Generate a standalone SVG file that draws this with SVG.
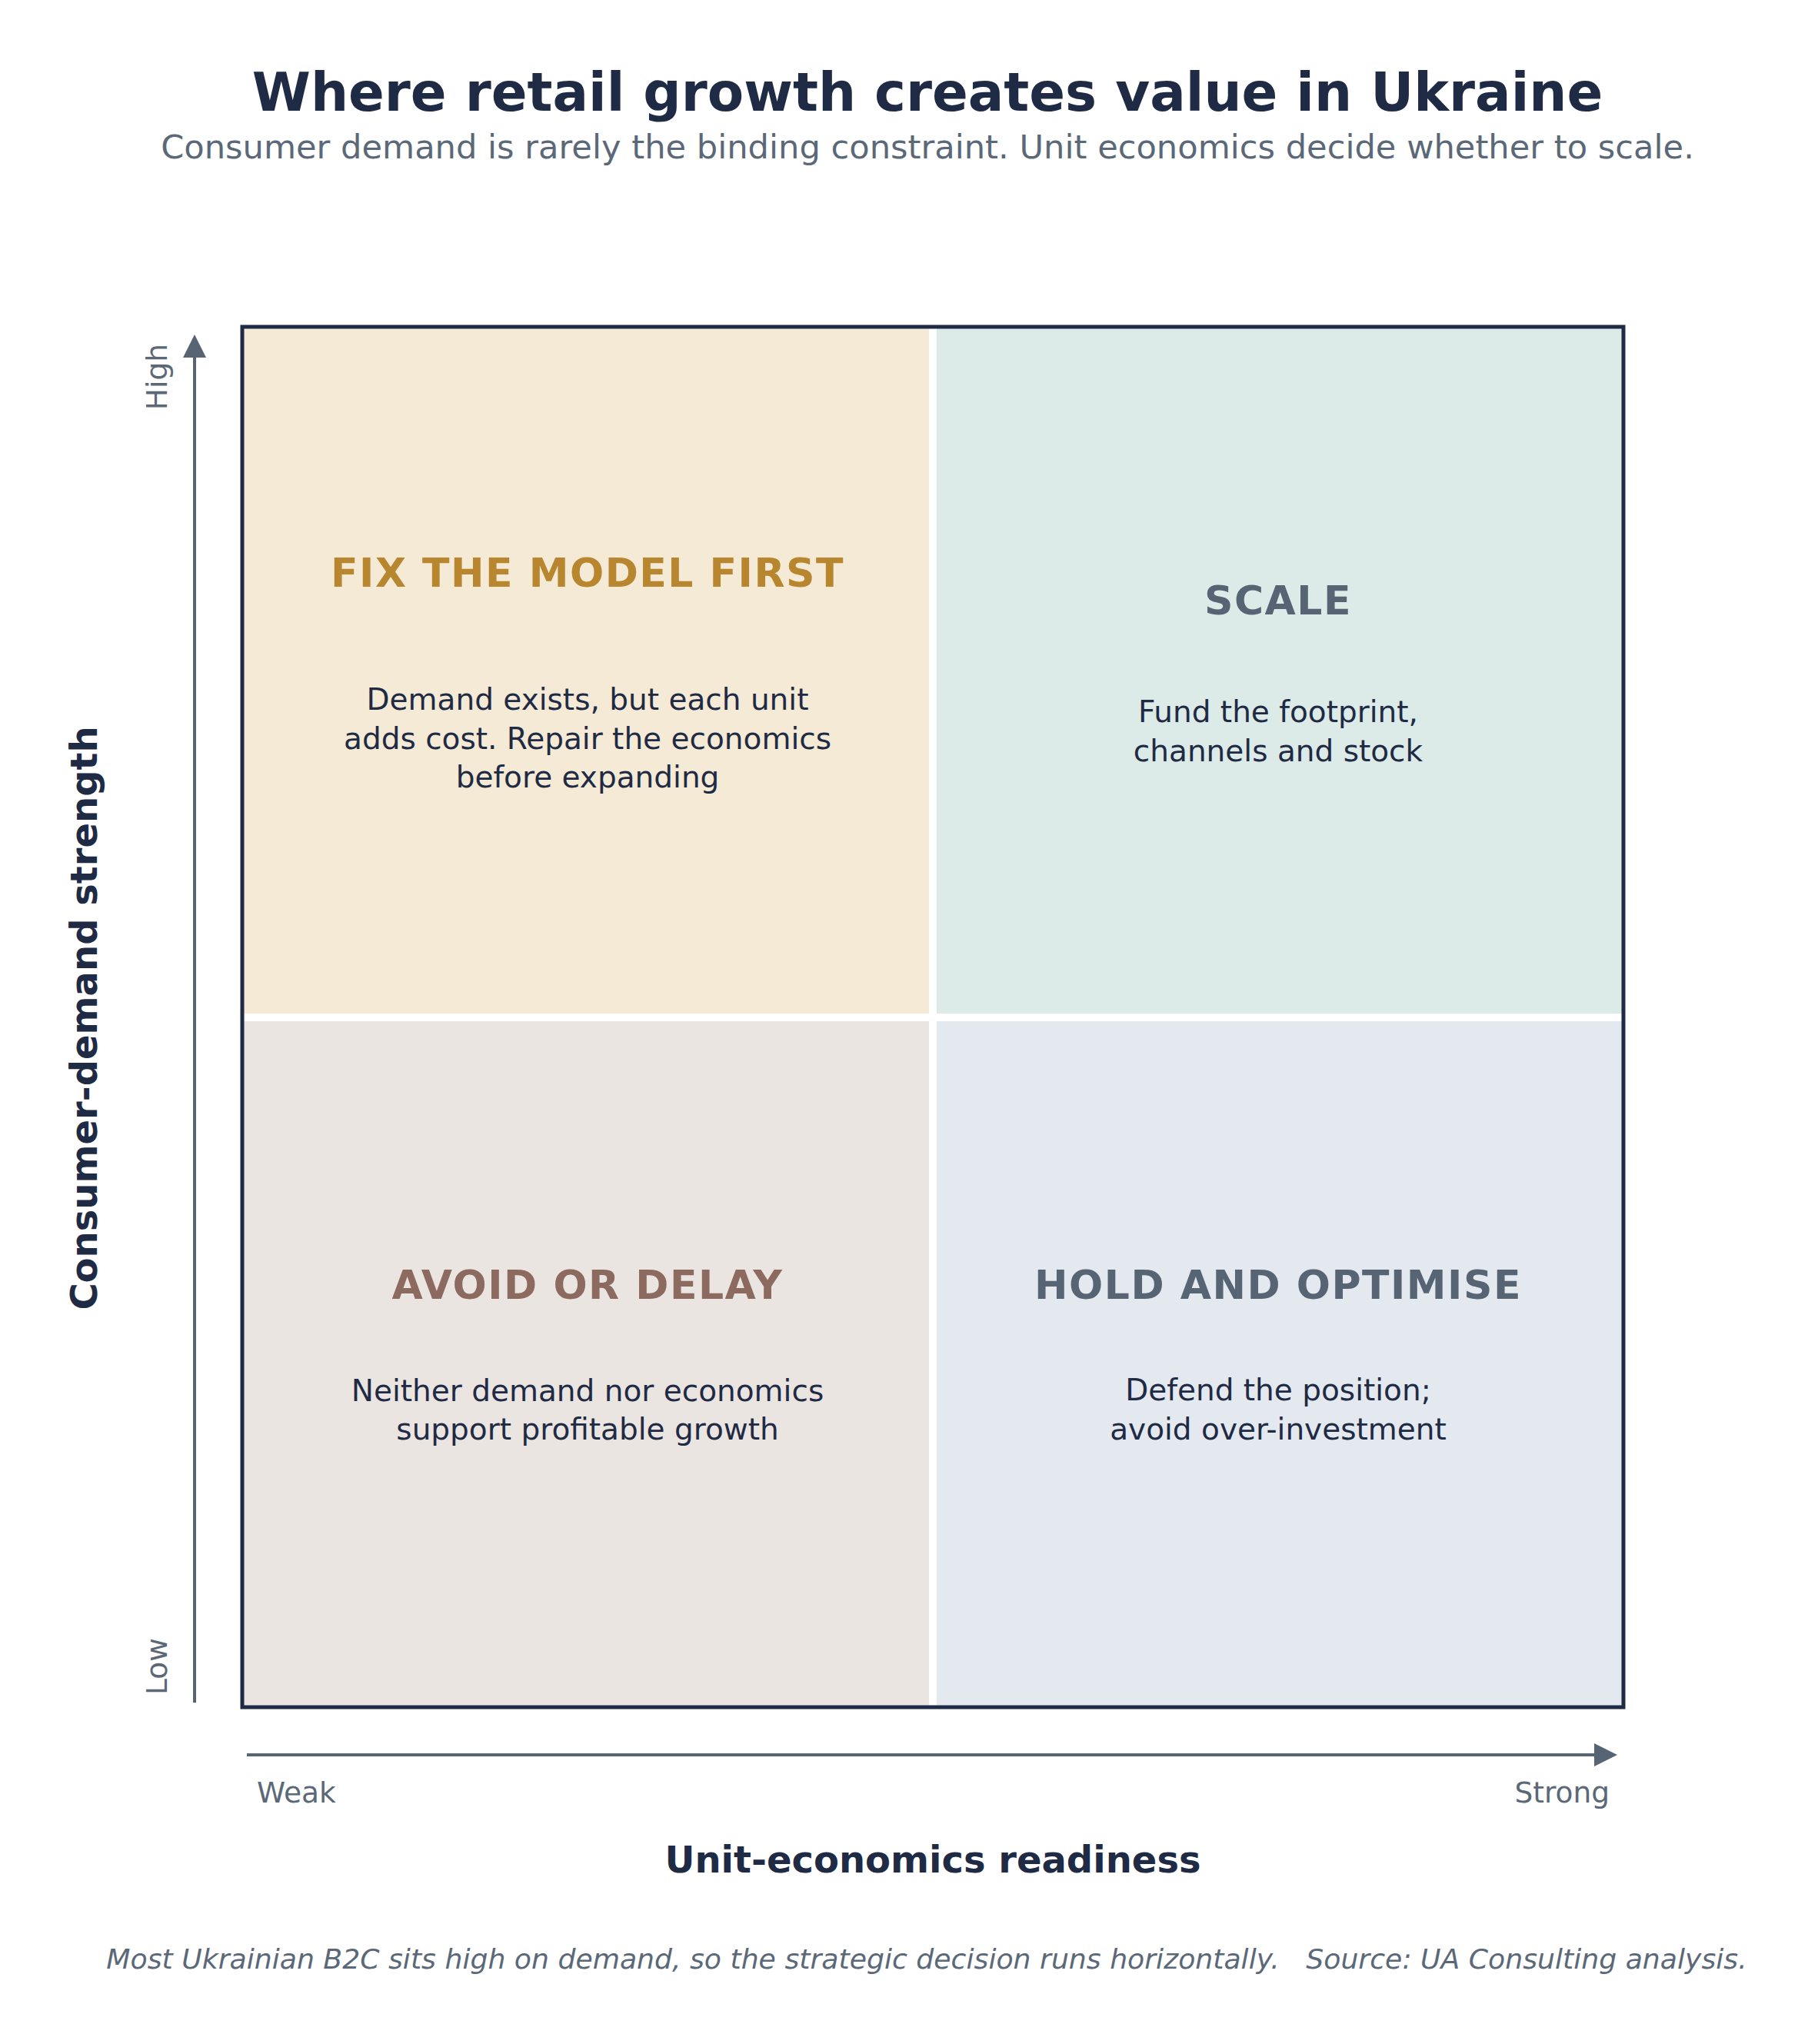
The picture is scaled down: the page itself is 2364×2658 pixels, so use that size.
<svg xmlns="http://www.w3.org/2000/svg" width="2364" height="2658" viewBox="0 0 2364 2658">
<style>
text { font-family: "DejaVu Sans", "Noto Sans", sans-serif; }
.title { font-size: 69px; font-weight: bold; fill: #1f2a44; text-anchor: middle; }
.subtitle { font-size: 43.2px; fill: #5b6878; text-anchor: middle; }
.qtitle { font-size: 52px; font-weight: bold; letter-spacing: 1.5px; text-anchor: middle; }
.qbody { font-size: 39px; fill: #1f2a44; text-anchor: middle; }
.axislabel { font-size: 48px; font-weight: bold; fill: #1f2a44; text-anchor: middle; }
.tick { font-size: 37.5px; fill: #5b6878; }
.footer { font-size: 36.2px; font-style: italic; fill: #5b6878; text-anchor: middle; }
.axis { stroke: #566474; stroke-width: 4; fill: none; }
</style>
<defs>
<marker id="arrow" markerUnits="userSpaceOnUse" markerWidth="30" markerHeight="30" refX="0" refY="15" orient="auto">
<path d="M0,0 L30,15 L0,30 Z" fill="#566474"/>
</marker>
</defs>
<rect x="0" y="0" width="2364" height="2658" fill="#ffffff"/>
<text class="title" x="1206" y="144">Where retail growth creates value in Ukraine</text>
<text class="subtitle" x="1206" y="206">Consumer demand is rarely the binding constraint. Unit economics decide whether to scale.</text>

<g id="quadrant-fix">
<rect x="315" y="425" width="898" height="898" fill="#f5ead5"/>
<text class="qtitle" x="764" y="763" fill="#b8862f">FIX THE MODEL FIRST</text>
<text class="qbody" x="764" y="923">Demand exists, but each unit</text>
<text class="qbody" x="764" y="974">adds cost. Repair the economics</text>
<text class="qbody" x="764" y="1024">before expanding</text>
</g>
<g id="quadrant-scale">
<rect x="1213" y="425" width="898" height="898" fill="#dcebe7"/>
<text class="qtitle" x="1662" y="799" fill="#566474">SCALE</text>
<text class="qbody" x="1662" y="939">Fund the footprint,</text>
<text class="qbody" x="1662" y="990">channels and stock</text>
</g>
<g id="quadrant-avoid">
<rect x="315" y="1323" width="898" height="897" fill="#ebe5e2"/>
<text class="qtitle" x="764" y="1689" fill="#8c6a60">AVOID OR DELAY</text>
<text class="qbody" x="764" y="1822">Neither demand nor economics</text>
<text class="qbody" x="764" y="1872">support profitable growth</text>
</g>
<g id="quadrant-hold">
<rect x="1213" y="1323" width="898" height="897" fill="#e4e9f0"/>
<text class="qtitle" x="1662" y="1689" fill="#566474">HOLD AND OPTIMISE</text>
<text class="qbody" x="1662" y="1821">Defend the position;</text>
<text class="qbody" x="1662" y="1872">avoid over-investment</text>
</g>
<g id="dividers">
<line x1="1213" y1="425" x2="1213" y2="2220" stroke="#ffffff" stroke-width="10"/>
<line x1="315" y1="1323" x2="2111" y2="1323" stroke="#ffffff" stroke-width="10"/>
</g>
<rect id="frame" x="315" y="425" width="1796" height="1795" fill="none" stroke="#1f2a44" stroke-width="5"/>

<g id="connectors">
<line class="axis" x1="253" y1="2214" x2="253" y2="465" marker-end="url(#arrow)"/>
<line class="axis" x1="321" y1="2282" x2="2073" y2="2282" marker-end="url(#arrow)"/>
</g>

<text class="tick" transform="translate(217,447) rotate(-90)" text-anchor="end">High</text>
<text class="tick" transform="translate(217,2204) rotate(-90)" text-anchor="start">Low</text>
<text class="tick" x="334" y="2344">Weak</text>
<text class="tick" x="2093" y="2344" text-anchor="end">Strong</text>
<text class="axislabel" x="1213" y="2435">Unit-economics readiness</text>
<text class="axislabel" transform="translate(126,1324) rotate(-90)">Consumer-demand strength</text>
<text class="footer" x="1205" y="2560" xml:space="preserve">Most Ukrainian B2C sits high on demand, so the strategic decision runs horizontally.   Source: UA Consulting analysis.</text>
</svg>
